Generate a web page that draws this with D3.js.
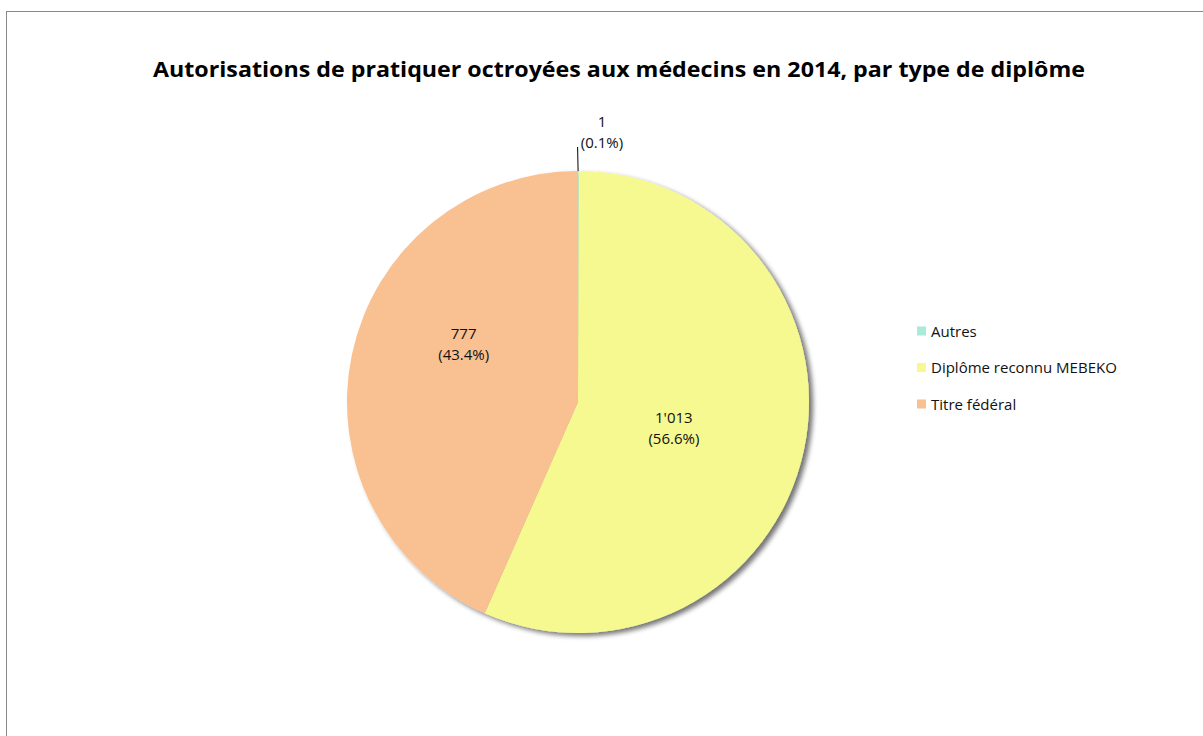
<!DOCTYPE html>
<html>
<head>
<meta charset="utf-8">
<script src="https://cdn.jsdelivr.net/npm/d3@7"></script>
<style>
  body { margin: 0; background: #fff; }
  svg { display: block; font-family: "Open Sans", Lato, sans-serif; }
</style>
</head>
<body>
<script>
const width = 1203;
const height = 736;

// data
const categories = ["Autres", "Diplôme reconnu MEBEKO", "Titre fédéral"];
const values = [1, 1013, 777];
const valueLabels = ["1", "1'013", "777"];
const colors = ["#a9ead9", "#f5f98f", "#f9c091"];

const svg = d3.select('body').append('svg')
    .attr('width', width)
    .attr('height', height);

// chart frame
svg.append('rect')
    .attr('x', 6.5).attr('y', 11.5)
    .attr('width', width + 10).attr('height', height + 10)
    .attr('fill', '#fff')
    .attr('stroke', '#888')
    .attr('stroke-width', 1);

svg.append('text')
    .attr('x', 619).attr('y', 77)
    .attr('text-anchor', 'middle')
    .attr('font-weight', 'bold')
    .attr('font-size', 22)
    .attr('fill', '#000')
    .attr('textLength', 932)
    .attr('lengthAdjust', 'spacingAndGlyphs')
    .text('Autorisations de pratiquer octroyées aux médecins en 2014, par type de diplôme');

const cx = 578, cy = 402, r = 231;
const total = d3.sum(values);

const pie = d3.pie().sort(null).value(d => d)(values);
const arc = d3.arc().innerRadius(0).outerRadius(r);

const defs = svg.append('defs');
const f = defs.append('filter').attr('id', 'shadow')
    .attr('x', '-10%').attr('y', '-10%').attr('width', '120%').attr('height', '120%');
f.append('feGaussianBlur').attr('in', 'SourceAlpha').attr('stdDeviation', 2.5);
f.append('feOffset').attr('dx', 4).attr('dy', 3).attr('result', 'b');
f.append('feComponentTransfer').append('feFuncA').attr('type', 'linear').attr('slope', 0.55);
const m = f.append('feMerge');
m.append('feMergeNode');
m.append('feMergeNode').attr('in', 'SourceGraphic');

const g = svg.append('g').attr('transform', `translate(${cx},${cy})`);
g.append('g').attr('filter', 'url(#shadow)')
    .selectAll('path')
    .data(pie)
    .enter()
    .append('path')
    .attr('d', arc)
    .attr('fill', (d, i) => colors[i]);

// data labels (best-fit style positions, as fractions of the radius)
const labelPos = [null, [0.415, 0.113], [-0.495, -0.25]];
const fmt = d3.format('.1%');
const labels = g.append('g')
    .attr('font-size', 15)
    .attr('fill', '#111')
    .attr('text-anchor', 'middle');

pie.forEach((d, i) => {
    let x, y;
    if (i === 0) {
        // small slice: label outside with leader line
        const edge = d3.arc().innerRadius(r).outerRadius(r).centroid(d);
        g.append('line')
            .attr('x1', edge[0] - 0.3).attr('y1', -r)
            .attr('x2', edge[0] - 0.8).attr('y2', -r - 24)
            .attr('stroke', '#000').attr('stroke-width', 1);
        x = 24; y = -r - 44;
    } else {
        x = labelPos[i][0] * r; y = labelPos[i][1] * r - 5;
    }
    const t = labels.append('text').attr('x', x).attr('y', y);
    t.append('tspan').attr('x', x).attr('dy', 0).text(valueLabels[i]);
    t.append('tspan').attr('x', x).attr('dy', 21).text('(' + fmt(values[i] / total) + ')');
});

// legend
const legend = svg.append('g').attr('transform', 'translate(917,331)');
categories.forEach((c, i) => {
    const row = legend.append('g').attr('transform', `translate(0,${i * 36.5})`);
    row.append('rect').attr('x', 0).attr('y', -4.5).attr('width', 9).attr('height', 9).attr('fill', colors[i]);
    row.append('text').attr('x', 14).attr('y', 5.5).attr('font-size', 15).attr('fill', '#111').text(c);
});
</script>
</body>
</html>
